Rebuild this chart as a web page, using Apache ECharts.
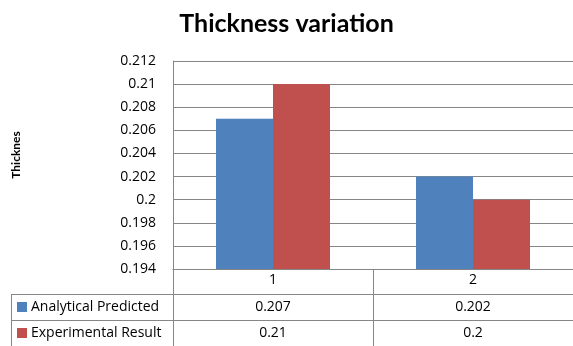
<!DOCTYPE html>
<html><head><meta charset="utf-8">
<script src="https://cdn.jsdelivr.net/npm/echarts@6/dist/echarts.min.js"></script>
<style>html,body{margin:0;padding:0;background:#fff}#c{width:573px;height:346px}</style>
</head><body><div id="c"></div>
<script>
const categories = ['1', '2'];
const seriesNames = ['Analytical Predicted', 'Experimental Result'];
const analytical = [0.207, 0.202];
const experimental = [0.21, 0.2];
const tableLabels = [['0.207', '0.202'], ['0.21', '0.2']];
const yMin = 0.194, yMax = 0.212, yStep = 0.002;
const colors = ['#4F81BD', '#C0504D'];
const font = '"Open Sans", Lato, sans-serif';
const titleFont = 'Lato, "Open Sans", sans-serif';
const lineColor = '#868686';

const chart = echarts.init(document.getElementById('c'), null, {renderer: 'canvas'});
const G = {left: 173, right: -4, top: 61, bottom: 77};
chart.setOption({
  animation: false,
  title: {text: 'Thickness variation', left: 'center', top: 6,
    textStyle: {fontFamily: titleFont, fontWeight: 'bold', fontSize: 25, color: '#000'}},
  grid: {left: G.left, right: G.right, top: G.top, bottom: G.bottom},
  xAxis: {type: 'category', data: categories,
    axisLine: {lineStyle: {color: lineColor}}, axisTick: {show: false},
    axisLabel: {fontFamily: font, fontSize: 14, color: '#000', margin: 4}},
  yAxis: {type: 'value', min: yMin, max: yMax, interval: yStep,
    axisLine: {show: true, lineStyle: {color: lineColor}}, axisTick: {show: false},
    splitLine: {lineStyle: {color: lineColor}},
    axisLabel: {fontFamily: font, fontSize: 14, color: '#000', margin: 17}},
  series: [
    {name: seriesNames[0], type: 'bar', data: analytical, itemStyle: {color: colors[0]}, barGap: '0%', barCategoryGap: '43%'},
    {name: seriesNames[1], type: 'bar', data: experimental, itemStyle: {color: colors[1]}, barGap: '0%', barCategoryGap: '43%'}
  ]
});

const c0 = chart.convertToPixel({xAxisIndex: 0}, categories[0]);
const c1 = chart.convertToPixel({xAxisIndex: 0}, categories[1]);
const band = c1 - c0;
const axisY = chart.convertToPixel({yAxisIndex: 0}, yMin);
const H = 346, W = 573;
const rowTop = [axisY + 25, axisY + 51];
const rowH = 26;
const tableLeft = 11;
const els = [];
const line = (x1, y1, x2, y2) => els.push({type: 'line', shape: {x1, y1, x2, y2}, style: {stroke: lineColor, lineWidth: 1}, silent: true});
line(G.left + 0.5, axisY, G.left + 0.5, H);
for (let i = 1; i < categories.length; i++) {
  const bx = Math.round(c0 + band * (i - 0.5)) + 0.5;
  line(bx, axisY, bx, H);
}
line(tableLeft + 0.5, rowTop[0], tableLeft + 0.5, H);
rowTop.forEach(y => line(tableLeft, Math.round(y) + 0.5, W, Math.round(y) + 0.5));
els.push({type: 'text', x: 16, y: 155, rotation: Math.PI / 2,
  style: {text: 'Thicknes', fontFamily: titleFont, fontWeight: 'bold', fontSize: 12, fill: '#000', align: 'center', verticalAlign: 'middle'}, silent: true});
seriesNames.forEach((n, r) => {
  const cy = rowTop[r] + rowH / 2;
  els.push({type: 'rect', shape: {x: 17, y: cy - 5, width: 10, height: 10}, style: {fill: colors[r]}, silent: true});
  els.push({type: 'text', x: 31, y: cy, style: {text: n, fontFamily: font, fontSize: 14, fill: '#000', verticalAlign: 'middle', align: 'left'}, silent: true});
  categories.forEach((cat, k) => {
    const cx = chart.convertToPixel({xAxisIndex: 0}, cat);
    els.push({type: 'text', x: cx, y: cy, style: {text: tableLabels[r][k], fontFamily: font, fontSize: 14, fill: '#000', verticalAlign: 'middle', align: 'center'}, silent: true});
  });
});
chart.setOption({graphic: els});
</script>
</body></html>
